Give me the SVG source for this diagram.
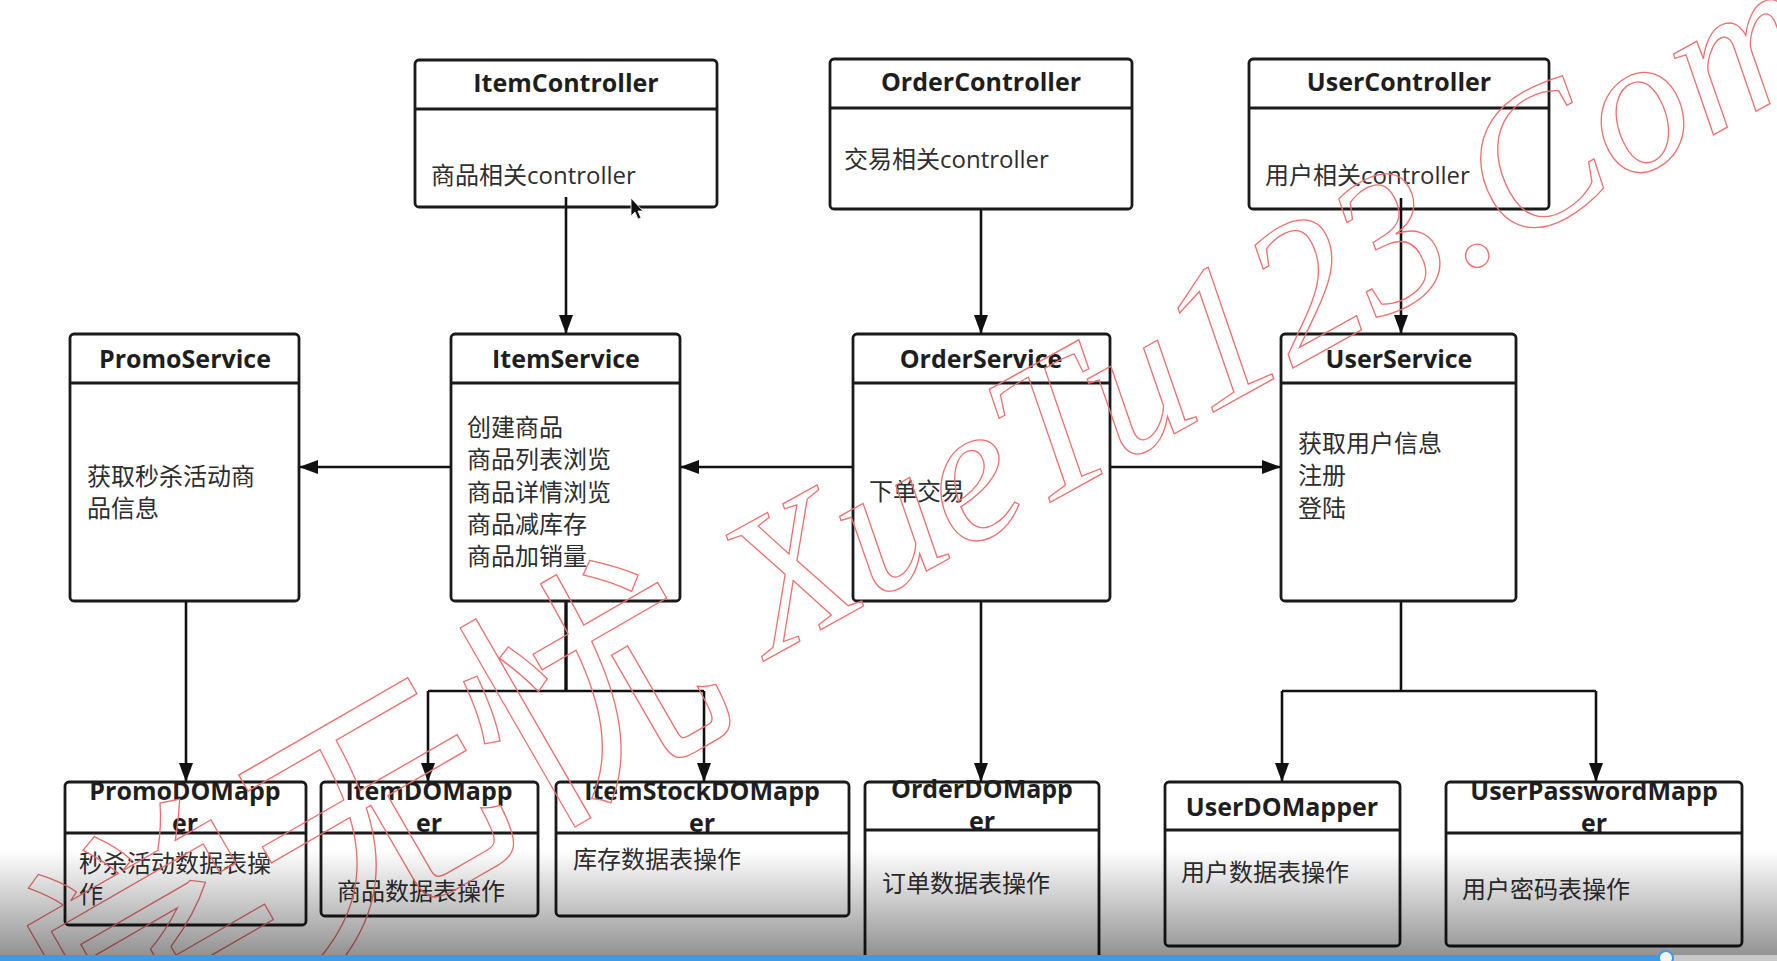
<svg xmlns="http://www.w3.org/2000/svg" width="1777" height="961" viewBox="0 0 1777 961">
<defs>
<style>
.box{fill:#fff;stroke:#1a1a1a;stroke-width:2.8}
.hdr{stroke:#1a1a1a;stroke-width:2.8}
.title{font-family:"Open Sans","Noto Sans","Liberation Sans",sans-serif;font-weight:bold;font-size:25px;fill:#1e1e1e;text-anchor:middle}
.body{font-family:"Open Sans","Noto Sans CJK SC",sans-serif;font-size:24px;fill:#2e2e2e}
.conn{fill:none;stroke:#111;stroke-width:2.6}
.wm{fill:none;stroke:#f07070;stroke-width:1.3}
</style>
<marker id="arr" markerUnits="userSpaceOnUse" markerWidth="20" markerHeight="14" refX="19" refY="7" orient="auto">
<path d="M0,0 L19,7 L0,14 z" fill="#111"/>
</marker>
<linearGradient id="fade" x1="0" y1="0" x2="0" y2="1">
<stop offset="0" stop-color="#000" stop-opacity="0"/>
<stop offset="1" stop-color="#000" stop-opacity="0.45"/>
</linearGradient>
</defs>
<rect width="1777" height="961" fill="#fff"/>

<g id="connectors">
<path class="conn" d="M566,197 V334" marker-end="url(#arr)"/>
<path class="conn" d="M981,209 V334" marker-end="url(#arr)"/>
<path class="conn" d="M1401,198 V334" marker-end="url(#arr)"/>
<path class="conn" d="M451,467 H299" marker-end="url(#arr)"/>
<path class="conn" d="M853,467 H680" marker-end="url(#arr)"/>
<path class="conn" d="M1110,467 H1281" marker-end="url(#arr)"/>
<path class="conn" d="M186,601 V782" marker-end="url(#arr)"/>
<path class="conn" d="M566,601 V691" style="stroke-width:3.4"/>
<path class="conn" d="M428,691 H704"/>
<path class="conn" d="M428,691 V782" marker-end="url(#arr)"/>
<path class="conn" d="M704,691 V782" marker-end="url(#arr)"/>
<path class="conn" d="M981,601 V782" marker-end="url(#arr)"/>
<path class="conn" d="M1401,601 V691"/>
<path class="conn" d="M1282,691 H1596"/>
<path class="conn" d="M1282,691 V782" marker-end="url(#arr)"/>
<path class="conn" d="M1596,691 V782" marker-end="url(#arr)"/>
</g>

<g id="ItemController">
<rect class="box" x="415" y="60" width="302" height="147" rx="4" fill-opacity="0"/>
<line class="hdr" x1="415" y1="109" x2="717" y2="109"/>
<text class="title" x="566" y="92">ItemController</text>
<text class="body" x="431" y="184">商品相关controller</text>
</g>
<g id="OrderController">
<rect class="box" x="830" y="59" width="302" height="150" rx="4"/>
<line class="hdr" x1="830" y1="108" x2="1132" y2="108"/>
<text class="title" x="981" y="91">OrderController</text>
<text class="body" x="844" y="168">交易相关controller</text>
</g>
<g id="UserController">
<rect class="box" x="1249" y="59" width="300" height="150" rx="4" fill-opacity="0"/>
<line class="hdr" x1="1249" y1="108" x2="1549" y2="108"/>
<text class="title" x="1399" y="91">UserController</text>
<text class="body" x="1265" y="184">用户相关controller</text>
</g>

<g id="PromoService">
<rect class="box" x="70" y="334" width="229" height="267" rx="4"/>
<line class="hdr" x1="70" y1="383" x2="299" y2="383"/>
<text class="title" x="185" y="368">PromoService</text>
<text class="body" x="87" y="485">获取秒杀活动商</text>
<text class="body" x="87" y="517">品信息</text>
</g>
<g id="ItemService">
<rect class="box" x="451" y="334" width="229" height="267" rx="4"/>
<line class="hdr" x1="451" y1="383" x2="680" y2="383"/>
<text class="title" x="566" y="368">ItemService</text>
<text class="body" x="467" y="436">创建商品</text>
<text class="body" x="467" y="468">商品列表浏览</text>
<text class="body" x="467" y="501">商品详情浏览</text>
<text class="body" x="467" y="533">商品减库存</text>
<text class="body" x="467" y="565">商品加销量</text>
</g>
<g id="OrderService">
<rect class="box" x="853" y="334" width="257" height="267" rx="4"/>
<line class="hdr" x1="853" y1="383" x2="1110" y2="383"/>
<text class="title" x="981" y="368">OrderService</text>
<text class="body" x="869" y="500">下单交易</text>
</g>
<g id="UserService">
<rect class="box" x="1281" y="334" width="235" height="267" rx="4"/>
<line class="hdr" x1="1281" y1="383" x2="1516" y2="383"/>
<text class="title" x="1399" y="368">UserService</text>
<text class="body" x="1298" y="452">获取用户信息</text>
<text class="body" x="1298" y="484">注册</text>
<text class="body" x="1298" y="517">登陆</text>
</g>

<g id="PromoDOMapper">
<rect class="box" x="65" y="782" width="241" height="143" rx="4"/>
<line class="hdr" x1="65" y1="833" x2="306" y2="833"/>
<text class="title" x="185" y="800">PromoDOMapp</text>
<text class="title" x="185" y="832">er</text>
<text class="body" x="79" y="872">秒杀活动数据表操</text>
<text class="body" x="79" y="903">作</text>
</g>
<g id="ItemDOMapper">
<rect class="box" x="321" y="782" width="217" height="134" rx="4"/>
<line class="hdr" x1="321" y1="833" x2="538" y2="833"/>
<text class="title" x="429" y="800">ItemDOMapp</text>
<text class="title" x="429" y="832">er</text>
<text class="body" x="337" y="900">商品数据表操作</text>
</g>
<g id="ItemStockDOMapper">
<rect class="box" x="556" y="782" width="293" height="134" rx="4"/>
<line class="hdr" x1="556" y1="833" x2="849" y2="833"/>
<text class="title" x="702" y="800">ItemStockDOMapp</text>
<text class="title" x="702" y="832">er</text>
<text class="body" x="573" y="868">库存数据表操作</text>
</g>
<g id="OrderDOMapper">
<rect class="box" x="865" y="782" width="234" height="200" rx="4"/>
<line class="hdr" x1="865" y1="830" x2="1099" y2="830"/>
<text class="title" x="982" y="798">OrderDOMapp</text>
<text class="title" x="982" y="830">er</text>
<text class="body" x="882" y="892">订单数据表操作</text>
</g>
<g id="UserDOMapper">
<rect class="box" x="1165" y="782" width="235" height="164" rx="4"/>
<line class="hdr" x1="1165" y1="830" x2="1400" y2="830"/>
<text class="title" x="1282" y="816">UserDOMapper</text>
<text class="body" x="1181" y="881">用户数据表操作</text>
</g>
<g id="UserPasswordMapper">
<rect class="box" x="1446" y="782" width="296" height="164" rx="4"/>
<line class="hdr" x1="1446" y1="833" x2="1742" y2="833"/>
<text class="title" x="1594" y="800">UserPasswordMapp</text>
<text class="title" x="1594" y="832">er</text>
<text class="body" x="1462" y="898">用户密码表操作</text>
</g>

<path id="cursor" d="M631,198 L631,216 L635,212 L638,219 L641,218 L638,211 L643,211 Z" fill="#111" stroke="#fff" stroke-width="0.8"/>

<g id="watermark">
<text class="wm" transform="translate(1300,364) rotate(-29)" text-anchor="middle" font-family="Liberation Serif,serif" font-style="italic" font-size="196">XueTu123.Com</text>
<text class="wm" transform="translate(375,818) rotate(-30)" y="88" text-anchor="middle" font-family="Noto Sans CJK SC,sans-serif" font-size="250">学无忧</text>
</g>

<g id="player">
<rect x="0" y="850" width="1777" height="111" fill="url(#fade)"/>
<rect x="0" y="955" width="1777" height="6" fill="#c8c8c8"/>
<rect x="0" y="955" width="1666" height="6" fill="#3d9ae8"/>
<circle cx="1666" cy="958" r="7" fill="#f4f4f4" stroke="#3d9ae8" stroke-width="2"/>
</g>
</svg>
